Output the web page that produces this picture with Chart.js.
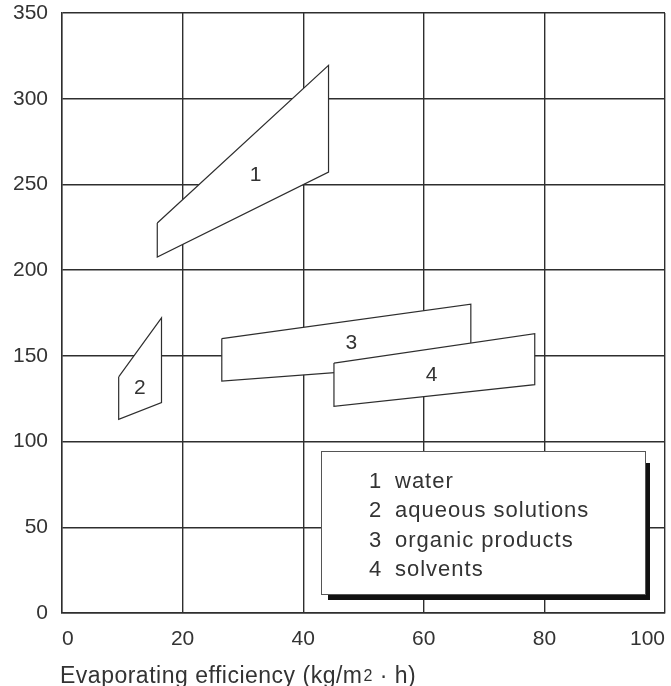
<!DOCTYPE html>
<html>
<head>
<meta charset="utf-8">
<script src="https://cdn.jsdelivr.net/npm/chart.js@4.4.1/dist/chart.umd.min.js"></script>
<style>
  html, body { margin: 0; padding: 0; background: #fff; }
  #wrap { width: 671px; height: 686px; }
</style>
</head>
<body>
<div id="wrap"><canvas id="main_graphic" width="671" height="686"></canvas></div>
<script>
const x_ticks = [0, 20, 40, 60, 80, 100]
const y_ticks = [0, 50, 100, 150, 200, 250, 300, 350]
const numeros = ['1', '2', '3', '4']
const nomes = ['water', 'aqueous solutions', 'organic products', 'solvents']

// corners of each region, closed (x = evaporating efficiency)
const agua_x = [15.8, 44.2, 44.2, 15.8, 15.8]
const agua_y = [227.5, 319.5, 257.2, 207.7, 227.5]
const aquosa_x = [9.4, 16.5, 16.5, 9.4, 9.4]
const aquosa_y = [137.7, 172.1, 122.7, 113, 137.7]
const organico_x = [26.5, 67.8, 67.8, 26.5, 26.5]
const organico_y = [160.1, 180.1, 146.2, 135.3, 160.1]
const solvente_x = [45.1, 78.4, 78.4, 45.1, 45.1]
const solvente_y = [145.8, 163, 133.2, 120.6, 145.8]

// where the numbers sit inside each region
const rotulo_x = [32.1, 12.9, 48.0, 61.3]
const rotulo_y = [255.3, 131, 157.1, 138.7]

const fonte = '"Liberation Sans", Arial, sans-serif'
const cor_linha = '#2e2e2e'
const cor_texto = '#333'

const junta = (xs, ys) => xs.map((x, i) => ({x: x, y: ys[i]}))

const regioes = [
  junta(agua_x, agua_y),
  junta(aquosa_x, aquosa_y),
  junta(organico_x, organico_y),
  junta(solvente_x, solvente_y)
]

const datasets = regioes.map((pontos, i) => ({
  label: nomes[i],
  data: pontos,
  borderColor: cor_linha,
  borderWidth: 1.2,
  backgroundColor: '#fff',
  fill: 'shape',
  tension: 0,
  pointRadius: 0,
  order: 4 - i
}))

const rotulos_plugin = {
  id: 'rotulos',
  afterDatasetsDraw(chart) {
    const ctx = chart.ctx
    const sx = chart.scales.x
    const sy = chart.scales.y
    ctx.save()
    ctx.fillStyle = cor_texto
    ctx.font = '21px ' + fonte
    ctx.textAlign = 'center'
    ctx.textBaseline = 'middle'
    for (let i = 0; i < numeros.length; i++) {
      ctx.fillText(numeros[i], sx.getPixelForValue(rotulo_x[i]), sy.getPixelForValue(rotulo_y[i]))
    }

    // legend box with its shadow
    const l = Math.round(sx.getPixelForValue(43.0))
    const r = Math.round(sx.getPixelForValue(96.7))
    const t = Math.round(sy.getPixelForValue(94.5))
    const b = Math.round(sy.getPixelForValue(10.9))
    ctx.fillStyle = '#111'
    ctx.fillRect(l + 7, t + 12, r - l - 2, b - t - 6)
    ctx.fillStyle = '#fff'
    ctx.fillRect(l, t, r - l, b - t)
    ctx.strokeStyle = '#555'
    ctx.lineWidth = 1
    ctx.strokeRect(l + 0.5, t + 0.5, r - l, b - t)

    ctx.fillStyle = cor_texto
    ctx.font = '22px ' + fonte
    ctx.letterSpacing = '1px'
    ctx.textAlign = 'left'
    for (let i = 0; i < nomes.length; i++) {
      const y = t + 30.5 + i * 29.6
      ctx.fillText(numeros[i], l + 48, y)
      ctx.fillText(nomes[i], l + 74, y)
    }
    ctx.restore()
  },
  afterDraw(chart) {
    // x axis title, with the small 2
    const ctx = chart.ctx
    ctx.save()
    ctx.fillStyle = cor_texto
    ctx.textAlign = 'left'
    ctx.textBaseline = 'alphabetic'
    ctx.letterSpacing = '0.5px'
    let x = 60
    const base = 683
    ctx.font = '23px ' + fonte
    const parte1 = 'Evaporating efficiency (kg/m'
    ctx.fillText(parte1, x, base)
    x += ctx.measureText(parte1).width + 1
    ctx.font = '16px ' + fonte
    ctx.fillText('2', x, base - 2)
    x += ctx.measureText('2').width
    ctx.font = '23px ' + fonte
    ctx.fillText(' \u00b7 h)', x, base)
    ctx.restore()
  }
}

const config = {
  type: 'line',
  data: { datasets: datasets },
  options: {
    responsive: false,
    animation: false,
    layout: { padding: { top: 13, right: 6, left: 0, bottom: 0 } },
    plugins: { legend: { display: false }, tooltip: { enabled: false }, title: { display: false } },
    scales: {
      x: {
        type: 'linear',
        min: 0,
        max: 100,
        afterBuildTicks: s => { s.ticks = x_ticks.map(v => ({value: v})) },
        afterFit: s => { s.height = 73; s.paddingLeft = 0; s.paddingRight = 0 },
        grid: { color: cor_linha, lineWidth: 1.4, drawTicks: false },
        border: { color: cor_linha, width: 1.4 },
        ticks: { font: { family: fonte, size: 21 }, color: cor_texto, padding: 14, align: 'inner', maxRotation: 0 }
      },
      y: {
        type: 'linear',
        min: 0,
        max: 350,
        afterBuildTicks: s => { s.ticks = y_ticks.map(v => ({value: v})) },
        afterFit: s => { s.width = 62; s.paddingTop = 0; s.paddingBottom = 0 },
        grid: { color: cor_linha, lineWidth: 1.4, drawTicks: false },
        border: { color: cor_linha, width: 1.4 },
        ticks: { font: { family: fonte, size: 21 }, color: cor_texto, padding: 14 }
      }
    }
  },
  plugins: [rotulos_plugin]
}

var myChart = new Chart(document.getElementById('main_graphic'), config)
</script>
</body>
</html>
